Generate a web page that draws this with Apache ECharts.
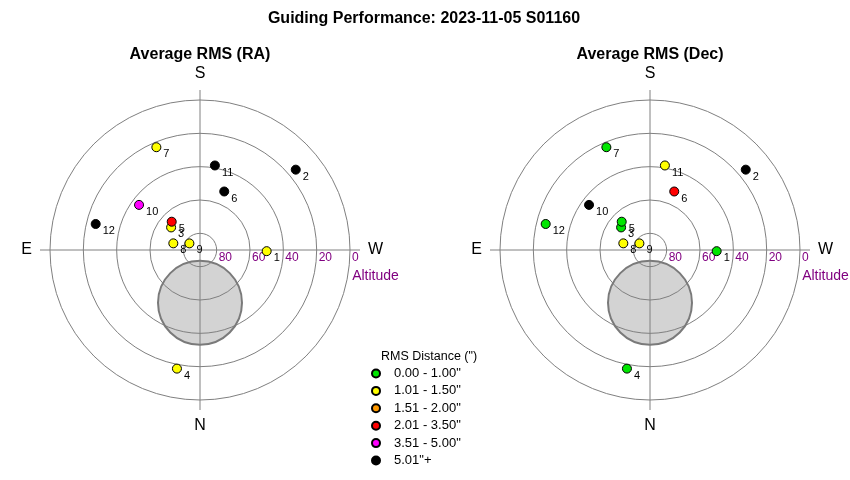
<!DOCTYPE html>
<html>
<head>
<meta charset="utf-8">
<script src="https://cdn.jsdelivr.net/npm/echarts@6/dist/echarts.min.js"></script>
<style>html,body{margin:0;padding:0;background:#fff;}#chart{width:850px;height:480px;}</style>
</head>
<body>
<div id="chart"></div>
<script>
// ---- data ----
const pointIds = ['1','2','3','4','5','6','7','8','9','10','11','12'];
const altitude = [50, 15, 68, 17.5, 66, 52, 23, 73.5, 82.5, 44.5, 38.5, 25.5];
const azimuth  = [271, 230, 128, 11, 135, 202.5, 157, 104, 122, 126.5, 190, 104];
// RMS bin index per point (0..5)
const rmsBinRA  = [1, 5, 1, 1, 3, 5, 1, 1, 1, 4, 5, 5];
const rmsBinDec = [0, 5, 0, 0, 0, 3, 0, 1, 1, 5, 1, 0];
const binLabels = ['0.00 - 1.00"', '1.01 - 1.50"', '1.51 - 2.00"', '2.01 - 3.50"', '3.51 - 5.00"', '5.01"+'];
const binColors = ['#00e600', '#ffff00', '#ff9900', '#ff0000', '#ff00ff', '#000000'];
const altitudeTicks = [0, 20, 40, 60, 80];
const zoneAlt = 58.3, zoneAz = 0;
const chartTitles = ['Average RMS (RA)', 'Average RMS (Dec)'];
const mainTitle = 'Guiding Performance: 2023-11-05 S01160';
const compass = {0: 'W', 90: 'N', 180: 'E', 270: 'S'};

// ---- layout ----
const FONT = 'Liberation Sans, Arial, sans-serif';
const centers = [[200, 250], [650, 250]];
const R = 150, RC = 160;
const grey = '#808080';
const toAngle = az => (az + 90) % 360;

const polar = [], angleAxis = [], radiusAxis = [], series = [], graphic = [];
centers.forEach((c, ci) => {
  polar.push({center: c, radius: R});
  polar.push({center: c, radius: RC});
  const pData = ci * 2, pCross = ci * 2 + 1;
  angleAxis.push({
    polarIndex: pData, type: 'value', min: 0, max: 360, startAngle: 0, clockwise: true,
    axisLine: {show: false}, axisTick: {show: false}, axisLabel: {show: false}, splitLine: {show: false}
  });
  angleAxis.push({
    polarIndex: pCross, type: 'value', min: 0, max: 360, interval: 90, startAngle: 0, clockwise: true,
    axisLine: {show: false}, axisTick: {show: false},
    splitLine: {show: true, lineStyle: {color: grey, width: 1}},
    axisLabel: {show: true, margin: 8, fontSize: 16, color: '#000', fontFamily: FONT,
      formatter: v => compass[v] !== undefined ? compass[v] : ''}
  });
  radiusAxis.push({
    polarIndex: pData, type: 'value', min: 0, max: 90, interval: 20, inverse: true,
    axisLine: {show: false}, axisTick: {show: false},
    splitLine: {show: true, lineStyle: {color: grey, width: 1}},
    axisLabel: {show: true, color: '#800080', fontSize: 12, fontFamily: FONT, margin: -2,
      align: 'left', verticalAlign: 'top', padding: [0, 0, 0, 2], showMaxLabel: false,
      formatter: v => altitudeTicks.indexOf(v) >= 0 ? String(v) : ''}
  });
  radiusAxis.push({
    polarIndex: pCross, type: 'value', min: 0, max: 90, show: false,
    axisLine: {show: false}, axisTick: {show: false}, axisLabel: {show: false}, splitLine: {show: false}
  });
  // grey zone (translucent so grid lines show through at the same grey)
  series.push({
    type: 'scatter', coordinateSystem: 'polar', polarIndex: pData, silent: true, z: 1,
    symbolSize: 84, data: [[zoneAlt, toAngle(zoneAz)]],
    itemStyle: {color: 'rgba(128,128,128,0.346)', borderColor: '#7a7a7a', borderWidth: 2, opacity: 1},
    label: {show: false}, legendHoverLink: false
  });
  const bins = ci === 0 ? rmsBinRA : rmsBinDec;
  binLabels.forEach((bl, bi) => {
    const data = [];
    pointIds.forEach((id, k) => {
      if (bins[k] === bi) data.push({name: id, value: [altitude[k], toAngle(azimuth[k])]});
    });
    series.push({
      type: 'scatter', coordinateSystem: 'polar', polarIndex: pData, name: bl, z: 5,
      symbol: 'circle', symbolSize: 9, data: data,
      itemStyle: {color: binColors[bi], borderColor: '#000', borderWidth: 1, opacity: 1},
      label: {show: true, formatter: '{b}', position: 'right', distance: 2, offset: [0, 7],
        fontSize: 11, color: '#000', fontFamily: FONT}
    });
  });
  graphic.push({type: 'text', x: c[0], y: 55, style: {text: chartTitles[ci], font: 'bold 16px ' + FONT,
    fill: '#000', align: 'center', verticalAlign: 'middle', textAlign: 'center', textVerticalAlign: 'middle'}});
  graphic.push({type: 'text', x: c[0] + 175.5, y: 276.5, style: {text: 'Altitude', font: '14px ' + FONT,
    fill: '#800080', align: 'center', verticalAlign: 'middle', textAlign: 'center', textVerticalAlign: 'middle'}});
});
graphic.push({type: 'text', x: 424, y: 19, style: {text: mainTitle, font: 'bold 16px ' + FONT,
  fill: '#000', align: 'center', verticalAlign: 'middle', textAlign: 'center', textVerticalAlign: 'middle'}});
graphic.push({type: 'text', x: 381, y: 356.5, style: {text: 'RMS Distance (")', font: '12.5px ' + FONT,
  fill: '#000', align: 'left', verticalAlign: 'middle', textAlign: 'left', textVerticalAlign: 'middle'}});

const chart = echarts.init(document.getElementById('chart'), null, {renderer: 'canvas'});
chart.setOption({
  animation: false,
  backgroundColor: '#fff',
  textStyle: {fontFamily: FONT},
  polar, angleAxis, radiusAxis, series, graphic,
  legend: {
    orient: 'vertical', left: 371, top: 367, padding: 0, itemWidth: 8, itemHeight: 8, itemGap: 4.4,
    icon: 'circle', selectedMode: false, data: binLabels,
    textStyle: {fontSize: 13, color: '#000', fontFamily: FONT, lineHeight: 13, padding: [0, 0, 0, 9]}
  }
});
</script>
</body>
</html>
